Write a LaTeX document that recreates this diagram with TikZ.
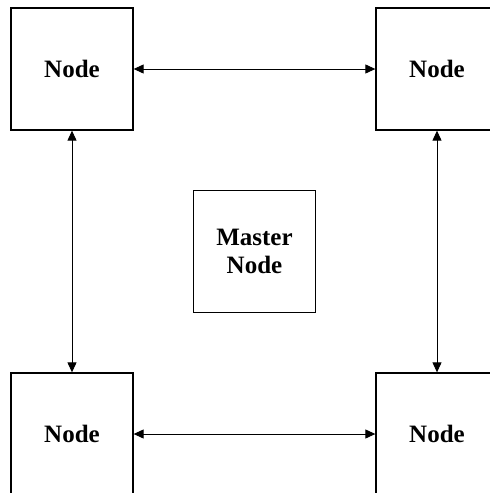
\documentclass[tikz,border=0pt]{standalone}
\usepackage{fontspec}
\setmainfont{Liberation Serif}
\usetikzlibrary{arrows.meta}
\begin{document}
\begin{tikzpicture}[x=1pt,y=-1pt,
  box/.style={draw=black, line width=1.3pt, minimum width=122pt, minimum height=122pt,
    inner sep=0pt, align=center, font=\fontsize{25}{28.5}\selectfont\bfseries},
  link/.style={line width=1pt, {Triangle[length=10pt,width=9pt]}-{Triangle[length=10pt,width=9pt]}}]
  \useasboundingbox (0,0) rectangle (490,493);
  \clip (0,0) rectangle (490,493);
  \fill[white] (0,0) rectangle (490,493);
  % four corner nodes and the master in the middle
  \node[box] (tl) at (72,69) {Node};
  \node[box] (tr) at (437,69) {Node};
  \node[box] (bl) at (72,434) {Node};
  \node[box] (br) at (437,434) {Node};
  \node[box] (m) at (254.5,251.5) {Master\\Node};
  % ring of two-way links
  \draw[link] (tl.east) -- (tr.west);
  \draw[link] (bl.east) -- (br.west);
  \draw[link] (tl.south) -- (bl.north);
  \draw[link] (tr.south) -- (br.north);
\end{tikzpicture}
\end{document}
